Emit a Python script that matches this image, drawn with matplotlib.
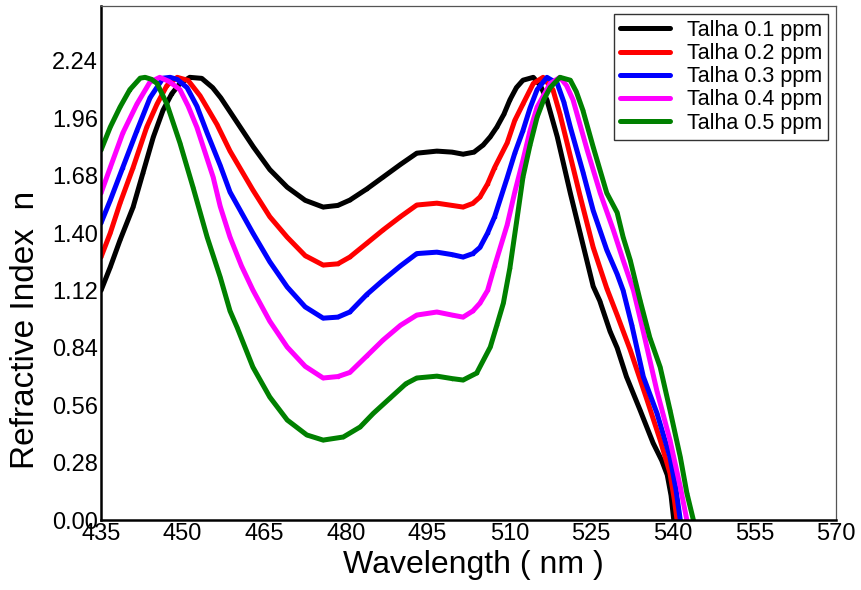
import matplotlib
matplotlib.use("Agg")
import matplotlib.pyplot as plt

plt.rcParams['font.family'] = ['Liberation Sans', 'DejaVu Sans']

# values
wl_01 = [435, 436.7, 438.5, 440.9, 442.7, 444.6, 446.4, 448, 449.5, 451.3, 453.5, 455.5, 457, 460, 463, 466,
         469.2, 472.5, 475.8, 478.5, 480.7, 483.8, 486.8, 490, 493, 496.7, 499.5, 501.5, 503.5, 505.2, 506.5,
         507.7, 509, 510.1, 511.3, 512.5, 514.4, 515.7, 516.9, 518.8, 521.2, 523, 525.4, 526.6, 528.5, 529.8,
         531.5, 534, 536.4, 538, 539, 539.7, 540.2]
n_01 = [1.12, 1.234, 1.366, 1.527, 1.693, 1.868, 2.0, 2.08, 2.13, 2.16, 2.155, 2.11, 2.06, 1.94, 1.82, 1.71,
        1.624, 1.56, 1.527, 1.535, 1.561, 1.615, 1.673, 1.735, 1.79, 1.80, 1.795, 1.785, 1.795, 1.83, 1.87,
        1.917, 1.98, 2.05, 2.11, 2.146, 2.16, 2.12, 2.05, 1.87, 1.595, 1.40, 1.14, 1.07, 0.92, 0.84,
        0.70, 0.537, 0.376, 0.29, 0.22, 0.12, 0.0]

wl_02 = [435, 436.7, 438.5, 440.9, 443.4, 445.3, 447.1, 449, 451, 453.2, 456.3, 458.7, 462.9, 466, 469.2,
         472.5, 475.8, 478.5, 480.7, 483.8, 486.8, 490, 493, 496.7, 499.5, 501.5, 503.3, 504.6, 506, 507.3,
         509.6, 511, 512.5, 514.4, 516.2, 518, 519.3, 520.6, 523, 525.4, 527.9, 529.8, 532.2, 535.3, 537.7,
         539.5, 540.3, 540.8]
n_02 = [1.283, 1.40, 1.546, 1.72, 1.917, 2.03, 2.12, 2.16, 2.145, 2.07, 1.93, 1.80, 1.61, 1.48, 1.38,
        1.29, 1.244, 1.25, 1.283, 1.35, 1.415, 1.48, 1.537, 1.546, 1.535, 1.527, 1.545, 1.576, 1.64, 1.72,
        1.84, 1.95, 2.03, 2.13, 2.16, 2.10, 1.98, 1.84, 1.58, 1.33, 1.13, 1.0, 0.83, 0.585, 0.39,
        0.229, 0.10, 0.0]

wl_03 = [435, 436.7, 439, 441.6, 444, 446.4, 447.7, 449, 450.8, 452.6, 454.5, 456.9, 458.7, 460.8, 462.9,
         466, 469.2, 472.5, 475.8, 478.5, 480.7, 483.8, 486.8, 490, 493, 496.7, 499.5, 501.5, 503.3, 504.6,
         506, 507.3, 509.6, 511, 512.5, 513.8, 515.1, 516.9, 518.8, 520, 521.2, 523.5, 525.4, 527.9, 529.8,
         530.9, 532.5, 534.6, 537.1, 539.5, 540.6, 541.4]
n_03 = [1.449, 1.56, 1.72, 1.90, 2.06, 2.156, 2.16, 2.15, 2.11, 2.02, 1.888, 1.73, 1.60, 1.50, 1.40,
        1.26, 1.137, 1.04, 0.985, 0.99, 1.015, 1.10, 1.17, 1.24, 1.30, 1.307, 1.295, 1.283, 1.30, 1.33,
        1.40, 1.48, 1.67, 1.79, 1.90, 2.01, 2.10, 2.16, 2.13, 2.04, 1.917, 1.70, 1.51, 1.317, 1.20,
        1.12, 0.95, 0.70, 0.522, 0.307, 0.15, 0.0]

wl_04 = [435, 436.7, 439, 441.6, 444, 445.8, 447.5, 449.5, 451, 452.6, 455.6, 456.9, 458.7, 460.8, 462.9,
         466, 469.2, 472.5, 475.8, 478.5, 480.7, 483.8, 486.8, 490, 493, 496.7, 499.5, 501.5, 503.3, 504.6,
         506, 507.3, 509.6, 511, 512.5, 513.8, 515.1, 517.5, 519.3, 520.5, 521.7, 524.3, 526.7, 529.1, 530.9,
         532.8, 534.6, 537.1, 539.5, 541.4, 542.6]
n_04 = [1.595, 1.72, 1.888, 2.03, 2.137, 2.16, 2.14, 2.10, 2.02, 1.917, 1.673, 1.53, 1.38, 1.24, 1.122,
        0.97, 0.844, 0.75, 0.693, 0.70, 0.72, 0.80, 0.878, 0.95, 1.0, 1.015, 1.0, 0.99, 1.02, 1.058,
        1.12, 1.24, 1.44, 1.60, 1.756, 1.90, 2.015, 2.13, 2.16, 2.12, 2.05, 1.805, 1.595, 1.415, 1.268,
        1.12, 0.92, 0.63, 0.39, 0.161, 0.0]

wl_05 = [435, 436.7, 438.5, 440.3, 442.2, 443.1, 444.3, 445.3, 447.1, 449.5, 451.9, 454.5, 456.9, 458.7, 460,
         462.9, 466, 469.2, 472.8, 475.8, 479.5, 482.6, 485, 488.1, 491, 493, 496.7, 499.5, 501.5, 504,
         506.5, 507.7, 508.9, 510.1, 511.3, 512.5, 513.8, 515.1, 516.3, 517.5, 519.3, 521.2, 522.3, 523.5,
         525.4, 527.9, 529.8, 530.9, 532.2, 534, 535.8, 537.7, 539.5, 541.4, 542.6, 543.8]
n_05 = [1.805, 1.917, 2.015, 2.10, 2.156, 2.16, 2.15, 2.13, 2.03, 1.84, 1.624, 1.38, 1.185, 1.02, 0.94,
        0.746, 0.60, 0.488, 0.415, 0.39, 0.405, 0.454, 0.52, 0.595, 0.665, 0.693, 0.702, 0.69, 0.683, 0.717,
        0.844, 0.95, 1.058, 1.23, 1.45, 1.673, 1.83, 1.966, 2.05, 2.11, 2.16, 2.146, 2.09, 2.0,
        1.82, 1.595, 1.50, 1.38, 1.268, 1.073, 0.89, 0.746, 0.537, 0.307, 0.132, 0.0]

labels = ["Talha 0.1 ppm", "Talha 0.2 ppm", "Talha 0.3 ppm", "Talha 0.4 ppm", "Talha 0.5 ppm"]
colors = ["black", "#ff0000", "#0000ff", "#ff00ff", "#008000"]
xticks = [435, 450, 465, 480, 495, 510, 525, 540, 555, 570]
yticks = [0.00, 0.28, 0.56, 0.84, 1.12, 1.40, 1.68, 1.96, 2.24]

series = [(wl_01, n_01), (wl_02, n_02), (wl_03, n_03), (wl_04, n_04), (wl_05, n_05)]

fig = plt.figure(figsize=(8.61, 5.90), dpi=100)
ax = fig.add_axes([0.1173, 0.1186, 0.971 - 0.1173, 0.9898 - 0.1186])

for (w, n), lab, c in zip(series, labels, colors):
    ax.plot(w, n, color=c, lw=3.6, marker='.', markersize=3, label=lab,
            solid_joinstyle='round', solid_capstyle='round')

ax.set_xlim(435, 570)
ax.set_ylim(0, 2.508)
ax.set_xticks(xticks)
ax.set_yticks(yticks)
ax.set_yticklabels(["%.2f" % v for v in yticks])
ax.tick_params(length=0, labelsize=17, pad=2)

for side in ["left", "bottom"]:
    ax.spines[side].set_linewidth(1.8)
    ax.spines[side].set_color("black")
for side in ["top", "right"]:
    ax.spines[side].set_linewidth(0.9)
    ax.spines[side].set_color("#555555")

ax.set_xlabel("Wavelength ( nm )", fontsize=23)
ax.xaxis.set_label_coords(0.507, -0.058)
ax.set_ylabel("Refractive Index  n", fontsize=24)
ax.yaxis.set_label_coords(-0.082, 0.37)

leg = ax.legend(loc="upper right", fontsize=15.5, frameon=True, fancybox=False,
                edgecolor="black", handlelength=2.3, labelspacing=0.1,
                borderaxespad=0.35, borderpad=0.3, handletextpad=0.8)
leg.get_frame().set_linewidth(1.0)

fig.savefig("out.png", dpi=100)
